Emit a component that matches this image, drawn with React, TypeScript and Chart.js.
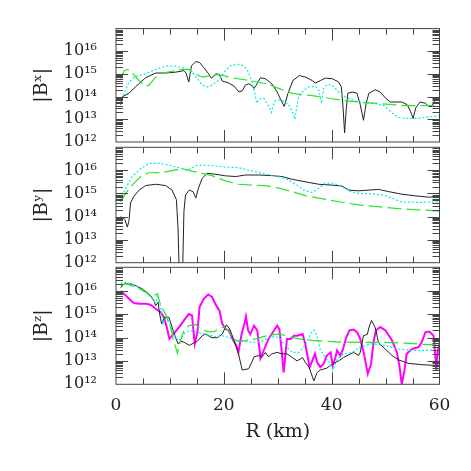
import React, { useEffect, useRef } from "react";
import { Chart, registerables } from "chart.js";

Chart.register(...registerables);

// ---- data: [R (km), |B| (G)] ----
const bxSolid: [number, number][] = [
  [0.86, 4.4e13], [1.2, 1.0e14], [2.4, 1.4e14], [3.6, 2.7e14], [5.5, 6.8e14], [7.35, 1.1e15], [9.2, 1.1e15],
  [11.05, 1.2e15], [12.6, 1.4e15], [13.0, 1.1e15], [13.5, 4.4e14], [14.0, 2.3e15], [14.8, 3.5e15], [15.5, 3.2e15],
  [16.3, 1.9e15], [17.2, 1.0e15], [17.7, 6.5e14], [18.5, 1.0e15], [19.0, 1.0e15], [19.4, 7.2e14], [19.7, 4.9e14],
  [20.9, 4.0e14], [21.9, 2.9e14], [22.8, 1.6e14], [23.4, 1.8e14], [24.0, 3.2e14], [24.6, 3.7e14], [25.1, 3.2e14],
  [25.6, 2.3e14], [26.0, 3.2e14], [26.8, 6.8e14], [27.7, 6.2e14], [28.9, 3.7e14], [29.9, 1.6e14], [30.5, 7.8e13],
  [31.2, 3.7e13], [31.9, 1.4e14], [32.8, 5.1e14], [34.0, 8.5e14], [35.2, 7.2e14], [36.4, 5.1e14], [37.0, 4.0e14],
  [37.9, 5.1e14], [38.8, 6.5e14], [40.1, 6.2e14], [41.3, 4.4e14], [41.8, 2.7e14], [42.1, 3.7e13], [42.4, 2.5e12],
  [42.7, 2.7e13], [43.0, 1.4e14], [43.8, 1.6e14], [44.7, 1.4e14], [45.3, 4.4e13], [45.9, 9.0e12], [46.4, 5.1e13],
  [46.9, 1.4e14], [48.1, 2.0e14], [49.0, 1.6e14], [50.0, 8.5e13], [50.9, 5.8e13], [53.0, 5.8e13], [54.0, 4.4e13],
  [54.6, 2.3e13], [55.1, 1.1e13], [55.6, 3.2e13], [56.4, 5.8e13], [57.4, 5.1e13], [58.0, 3.7e13], [58.6, 3.7e13],
  [59.1, 6.8e13], [59.5, 9.3e13], [60.0, 8.0e13],
];
const bxDot: [number, number][] = [
  [0.86, 5.1e13], [1.5, 1.4e14], [2.4, 4.4e14], [3.6, 7.8e14], [5.5, 1.0e15], [7.35, 1.6e15], [9.2, 2.2e15],
  [11.05, 2.2e15], [12.6, 1.8e15], [14.1, 1.2e15], [15.1, 6.2e14], [16.0, 3.2e14], [16.9, 2.7e14], [17.8, 3.2e14],
  [19.1, 5.5e14], [20.3, 1.4e15], [21.2, 2.3e15], [22.5, 2.7e15], [23.7, 2.3e15], [24.6, 1.2e15], [25.3, 3.7e14],
  [25.8, 1.2e14], [26.1, 5.1e13], [26.5, 7.8e13], [27.4, 8.5e13], [28.0, 5.1e13], [28.5, 3.2e13], [28.8, 2.0e13],
  [29.2, 4.4e13], [29.6, 6.8e13], [30.2, 7.2e13], [31.1, 6.2e13], [32.0, 4.4e13], [32.7, 2.3e13], [33.2, 1.0e13],
  [33.5, 3.2e13], [33.9, 1.0e14], [34.8, 1.9e14], [35.8, 2.7e14], [37.0, 2.9e14], [37.6, 1.9e14], [38.1, 5.1e13],
  [38.5, 2.3e14], [39.2, 3.5e14], [40.1, 3.2e14], [41.0, 1.9e14], [41.6, 1.4e14], [42.5, 1.0e14], [43.8, 7.2e13],
  [45.6, 5.5e13], [48.1, 4.9e13], [49.7, 4.0e13], [51.2, 1.9e13], [52.4, 1.2e13], [53.7, 1.1e13], [56.1, 1.1e13],
  [58.0, 1.3e13], [60.0, 1.4e13],
];
const bxDash: [number, number][] = [
  [0.86, 6.2e14], [1.5, 1.4e15], [2.1, 1.6e15], [3.0, 1.1e15], [4.3, 5.1e14], [5.5, 2.9e14], [6.1, 3.2e14],
  [7.35, 7.2e14], [8.6, 1.1e15], [10.4, 1.3e15], [12.3, 1.6e15], [13.5, 1.6e15], [14.8, 1.0e15], [16.0, 7.2e14],
  [17.8, 8.5e14], [19.1, 9.3e14], [21.5, 6.8e14], [25.3, 4.9e14], [28.3, 3.5e14], [30.2, 2.3e14], [32.7, 1.4e14],
  [36.4, 1.1e14], [39.5, 8.5e13], [42.6, 6.5e13], [46.3, 5.5e13], [50.0, 4.7e13], [53.7, 4.0e13], [57.4, 4.0e13],
  [60.0, 4.1e13],
];

const bySolid: [number, number][] = [
  [0.86, 1.0e14], [1.66, 7.4e13], [2.1, 3.5e13], [2.4, 6.3e13], [2.7, 3.9e14], [3.3, 7.4e14], [4.3, 1.4e15],
  [5.5, 2.2e15], [7.35, 2.5e15], [9.2, 2.2e15], [10.4, 1.4e15], [11.2, 5.4e14], [11.5, 3.2e13], [11.8, 1e11],
  [12.3, 1e11], [12.6, 1.7e14], [12.9, 8.7e14], [13.6, 1.4e15], [14.3, 1.2e15], [14.8, 6.3e14], [15.3, 1.7e15],
  [16.0, 4.6e15], [16.9, 7.4e15], [18.5, 6.8e15], [20.3, 5.8e15], [22.2, 5.4e15], [24.0, 6.3e15], [26.5, 6.3e15],
  [29.0, 5.9e15], [30.8, 5.4e15], [32.7, 4.1e15], [35.1, 3.2e15], [37.6, 2.5e15], [40.1, 2.3e15], [41.9, 2.1e15],
  [43.2, 1.4e15], [45.0, 1.3e15], [46.9, 1.4e15], [48.7, 1.5e15], [50.6, 1.2e15], [53.0, 9.3e14], [55.5, 7.9e14],
  [58.0, 6.9e14], [60.0, 7.4e14],
];
const byDot: [number, number][] = [
  [0.86, 5.4e14], [1.8, 1.7e15], [3.0, 5.4e15], [4.6, 1.2e16], [6.1, 2.0e16], [8.0, 2.0e16], [9.8, 1.7e16],
  [11.7, 1.3e16], [13.2, 1.0e16], [14.8, 1.6e16], [16.0, 1.7e16], [17.8, 1.6e16], [20.3, 1.4e16], [22.8, 1.3e16],
  [25.3, 9.3e15], [27.7, 6.8e15], [30.2, 5.4e15], [32.0, 3.9e15], [33.9, 2.0e15], [35.1, 1.3e15], [36.4, 1.1e15],
  [37.6, 1.7e15], [38.8, 2.8e15], [40.4, 2.8e15], [41.9, 2.0e15], [43.5, 1.2e15], [45.0, 1.0e15], [47.5, 9.8e14],
  [50.0, 8.1e14], [51.8, 5.4e14], [53.0, 4.3e14], [56.1, 4.1e14], [60.0, 4.3e14],
];
const byDash: [number, number][] = [
  [0.86, 4.3e14], [1.8, 1.0e15], [3.0, 2.3e15], [4.6, 5.4e15], [6.1, 7.9e15], [8.6, 8.1e15], [10.4, 9.8e15],
  [12.3, 1.2e16], [14.1, 9.3e15], [16.0, 7.4e15], [17.8, 5.9e15], [20.3, 3.5e15], [22.8, 2.5e15], [25.3, 2.3e15],
  [27.7, 2.2e15], [30.2, 1.7e15], [32.7, 1.2e15], [35.1, 8.1e14], [37.6, 6.3e14], [40.1, 4.9e14], [42.6, 3.9e14],
  [45.0, 3.2e14], [47.5, 2.8e14], [50.0, 2.5e14], [52.4, 2.2e14], [54.9, 2.0e14], [57.4, 1.9e14], [60.0, 1.7e14],
];

const bzSolid: [number, number][] = [
  [0.86, 1.35e16], [1.5, 2.0e16], [3.0, 1.9e16], [4.9, 1.2e16], [6.4, 6.3e15], [7.0, 3.9e15], [7.35, 2.3e15],
  [7.8, 3.2e15], [8.1, 1.0e15], [8.45, 3.9e14], [8.9, 6.3e14], [9.2, 7.4e14], [9.8, 7.4e14], [10.4, 2.8e14],
  [11.05, 1.0e14], [11.5, 5.4e13], [12.0, 6.9e13], [12.6, 6.3e13], [13.6, 4.6e13], [14.4, 5.8e13], [15.1, 6.9e13],
  [16.0, 1.2e14], [16.6, 1.4e14], [17.8, 9.8e13], [18.8, 9.8e13], [19.7, 1.4e14], [20.5, 3.5e14], [21.1, 2.3e14],
  [21.9, 7.4e13], [22.7, 2.1e13], [23.4, 4.1e12], [24.6, 4.6e12], [25.3, 1.0e13], [25.6, 1.5e13], [26.5, 1.7e13],
  [27.0, 1.4e13], [27.7, 2.3e13], [28.3, 1.5e13], [28.9, 2.0e13], [29.9, 2.3e13], [30.8, 2.0e13], [31.7, 2.0e13],
  [32.7, 1.4e13], [33.6, 1.0e13], [34.6, 1.4e13], [35.1, 8.7e12], [35.8, 5.4e12], [36.7, 1.4e12], [37.3, 3.2e12],
  [37.9, 4.1e12], [39.1, 4.9e12], [40.1, 7.4e12], [41.3, 1.0e13], [42.2, 1.4e13], [43.5, 2.0e13], [44.1, 2.3e13],
  [45.0, 1.7e13], [45.3, 2.3e13], [45.9, 1.2e14], [46.6, 1.35e14], [47.0, 3.1e14], [47.4, 5.4e14], [48.1, 2.6e14],
  [48.7, 5.9e13], [49.7, 3.6e13], [51.2, 1.7e13], [52.4, 1.1e13], [54.3, 7.8e12], [56.7, 6.9e12], [58.6, 6.5e12],
  [60.0, 6.5e12],
];
const bzDot: [number, number][] = [
  [0.86, 2.1e16], [1.8, 2.3e16], [3.6, 1.7e16], [5.5, 8.7e15], [6.7, 4.6e15], [7.35, 3.0e15], [7.8, 5.4e15],
  [8.3, 2.0e15], [8.7, 3.9e14], [9.2, 6.3e14], [9.8, 4.6e14], [10.4, 2.0e14], [11.05, 1.0e14], [11.7, 7.4e13],
  [12.6, 1.45e14], [13.8, 2.0e14], [15.1, 1.7e14], [16.6, 1.35e14], [18.5, 1.1e14], [19.7, 1.2e14], [20.9, 1.0e14],
  [22.2, 7.9e13], [23.4, 6.9e13], [25.3, 6.3e13], [27.1, 7.0e13], [28.9, 1.1e14], [30.2, 1.0e14], [31.4, 4.6e13],
  [32.7, 2.3e13], [33.9, 2.3e13], [35.1, 4.6e13], [36.1, 1.45e14], [36.7, 2.1e14], [37.3, 1.2e14], [37.9, 2.8e13],
  [38.8, 1.45e13], [39.8, 7.4e12], [40.2, 3.9e12], [41.0, 1.2e13], [42.2, 2.0e13], [43.8, 2.3e13], [45.3, 3.9e13],
  [47.5, 5.4e13], [49.9, 4.6e13], [52.4, 3.2e13], [54.9, 2.8e13], [57.4, 2.8e13], [60.0, 2.8e13],
];
const bzDash: [number, number][] = [
  [0.86, 1.7e16], [1.8, 2.0e16], [3.6, 1.45e16], [5.5, 8.7e15], [6.7, 5.4e15], [7.65, 7.4e15], [8.3, 2.3e15],
  [9.2, 1.0e15], [10.1, 2.8e14], [10.7, 7.4e13], [11.4, 2.1e13], [12.0, 7.4e13], [12.6, 2.0e14], [13.5, 3.2e14],
  [14.8, 3.6e14], [15.7, 2.3e14], [16.9, 1.8e14], [18.2, 1.8e14], [19.1, 2.3e14], [20.0, 2.8e14], [20.8, 2.0e14],
  [21.6, 1.0e14], [22.5, 6.9e13], [24.0, 7.4e13], [25.9, 8.7e13], [27.7, 1.15e14], [29.6, 1.35e14], [30.5, 1.4e14],
  [32.7, 9.8e13], [35.1, 7.9e13], [38.8, 6.9e13], [42.5, 6.3e13], [46.2, 6.2e13], [49.9, 6.2e13], [53.7, 5.8e13],
  [57.4, 5.0e13], [60.0, 4.9e13],
];
const bzMag: [number, number][] = [
  [0.86, 9.8e15], [1.8, 6.3e15], [2.7, 3.9e15], [3.3, 3.0e15], [4.3, 2.8e15], [5.5, 2.8e15], [6.4, 2.5e15],
  [7.35, 1.7e15], [8.3, 1.2e15], [8.9, 7.4e14], [9.5, 2.3e14], [9.9, 8.7e13], [10.6, 1.35e14], [11.7, 2.8e14],
  [12.6, 5.4e14], [13.5, 1.0e15], [14.1, 8.7e14], [14.6, 5.4e13], [15.1, 1.7e14], [15.5, 2.0e15], [16.3, 4.6e15],
  [17.1, 6.9e15], [17.8, 5.4e15], [18.6, 2.3e15], [19.2, 1.4e15], [19.7, 3.9e14], [20.3, 2.3e14], [20.9, 2.0e14],
  [21.6, 8.7e13], [22.3, 4.6e13], [22.7, 2.3e13], [23.3, 1.4e14], [23.9, 4.6e14], [24.1, 7.9e14], [24.5, 2.0e14],
  [24.9, 1.4e14], [25.6, 3.2e14], [26.2, 2.0e14], [26.5, 5.4e13], [26.8, 1.3e13], [27.4, 2.8e13], [28.3, 8.7e13],
  [29.3, 2.0e14], [29.9, 3.2e14], [30.3, 2.3e14], [30.6, 5.4e13], [31.1, 3.2e12], [31.7, 8.7e13], [32.4, 8.7e13],
  [33.0, 1.2e14], [33.6, 1.2e14], [34.6, 1.4e14], [35.1, 5.4e13], [35.9, 5.4e12], [36.4, 1.0e13], [36.9, 2.0e13],
  [37.3, 8.7e12], [37.9, 5.4e12], [38.5, 7.4e12], [39.1, 1.7e13], [39.8, 2.3e13], [40.2, 6.3e12], [40.7, 1.4e13],
  [41.0, 2.8e13], [41.6, 1.7e13], [42.1, 3.2e13], [42.7, 1.0e14], [43.3, 2.0e14], [44.1, 2.2e14], [44.7, 1.7e14],
  [45.3, 8.7e13], [46.0, 2.0e13], [46.7, 2.8e12], [47.3, 7.4e12], [47.8, 7.4e13], [48.2, 2.0e14], [49.0, 2.8e14],
  [50.0, 2.0e14], [51.2, 7.4e13], [52.1, 2.3e13], [52.6, 5.4e12], [53.0, 1.0e12], [53.5, 3.9e12], [53.9, 2.0e13],
  [54.9, 3.2e13], [56.1, 3.9e13], [56.7, 6.3e13], [57.4, 1.7e14], [58.1, 1.8e14], [58.9, 1.2e14], [59.2, 2.0e13],
  [59.4, 3.9e12], [59.7, 2.8e13], [60.0, 5.4e13],
];

const xTickValues = [0, 20, 40, 60];
const yTickValues = [1e12, 1e13, 1e14, 1e15, 1e16, 1e17];
const yTickLabels = ["10¹²", "10¹³", "10¹⁴", "10¹⁵", "10¹⁶", ""];
const panelTitles = ["|Bˣ|", "|Bʸ|", "|Bᶻ|"];
const xTitle = "R (km)";

const FONT = "'DejaVu Serif', serif";
const TEXT = "#222";

const frameTicks = {
  id: "frameTicks",
  afterDraw(chart: any) {
    const { ctx, chartArea: a, scales } = chart;
    const x = scales.x;
    const y = scales.y;
    ctx.save();
    ctx.strokeStyle = "#444";
    ctx.lineWidth = 1;
    ctx.strokeRect(a.left, a.top, a.right - a.left, a.bottom - a.top);
    ctx.beginPath();
    for (let v = 5; v < 60; v += 5) {
      const px = Math.round(x.getPixelForValue(v)) + 0.5;
      const len = v % 20 === 0 ? 12 : 6;
      ctx.moveTo(px, a.top);
      ctx.lineTo(px, a.top + len);
      ctx.moveTo(px, a.bottom);
      ctx.lineTo(px, a.bottom - len);
    }
    for (let d = 12; d <= 16; d++) {
      for (let m = 1; m <= 9; m++) {
        if (d === 12 && m === 1) continue;
        const py = Math.round(y.getPixelForValue(m * Math.pow(10, d))) + 0.5;
        const len = m === 1 ? 12 : 7;
        ctx.moveTo(a.left, py);
        ctx.lineTo(a.left + len, py);
        ctx.moveTo(a.right, py);
        ctx.lineTo(a.right - len, py);
      }
    }
    ctx.stroke();
    ctx.restore();
  },
};

function series(points: [number, number][], color: string, width: number, dash: number[]) {
  return {
    data: points.map(([r, b]) => ({ x: r, y: b })),
    borderColor: color,
    borderWidth: width,
    borderDash: dash,
    pointRadius: 0,
    tension: 0,
    fill: false,
  };
}

type Panel = { top: number; bottom: number; showX: boolean; title: string; datasets: any[] };

const panels: Panel[] = [
  {
    top: 25.3, bottom: 142, showX: false, title: panelTitles[0],
    datasets: [
      series(bxDash, "rgb(40,230,40)", 1.2, [14, 5]),
      series(bxDot, "rgb(0,235,235)", 1.2, [2, 2]),
      series(bxSolid, "#222", 1, []),
    ],
  },
  {
    top: 147.3, bottom: 262.7, showX: false, title: panelTitles[1],
    datasets: [
      series(byDash, "rgb(40,230,40)", 1.2, [14, 5]),
      series(byDot, "rgb(0,235,235)", 1.2, [2, 2]),
      series(bySolid, "#222", 1, []),
    ],
  },
  {
    top: 267.3, bottom: 384.3, showX: true, title: panelTitles[2],
    datasets: [
      series(bzDash, "rgb(40,230,40)", 1.2, [14, 5]),
      series(bzDot, "rgb(0,235,235)", 1.2, [2, 2]),
      series(bzSolid, "#222", 1, []),
      series(bzMag, "#ff00ff", 2, []),
    ],
  },
];

function PanelChart({ panel }: { panel: Panel }) {
  const ref = useRef<HTMLCanvasElement | null>(null);
  useEffect(() => {
    if (!ref.current) return;
    const H = 471;
    const xHeight = H - panel.bottom;
    const chart = new Chart(ref.current, {
      type: "line",
      data: { datasets: panel.datasets },
      plugins: [frameTicks],
      options: {
        animation: false,
        responsive: false,
        maintainAspectRatio: false,
        events: [],
        layout: {
          padding: { left: 0, right: 31.5, top: panel.top, bottom: panel.showX ? 0 : H - panel.bottom },
        },
        plugins: { legend: { display: false }, tooltip: { enabled: false } },
        scales: {
          x: {
            type: "linear",
            min: 0,
            max: 60,
            display: panel.showX,
            afterBuildTicks: (s: any) => {
              s.ticks = xTickValues.map((v) => ({ value: v }));
            },
            afterFit: (s: any) => {
              s.height = panel.showX ? xHeight : 0;
            },
            grid: { display: false, drawTicks: false },
            border: { display: false },
            ticks: {
              font: { family: FONT, size: 17 },
              color: TEXT,
              padding: 11,
              maxRotation: 0,
              autoSkip: false,
              callback: (v: any) => String(v),
            },
            title: {
              display: true,
              text: xTitle,
              font: { family: FONT, size: 19 },
              color: TEXT,
              padding: { top: 0, bottom: 28 },
            },
          },
          y: {
            type: "logarithmic",
            min: 1e12,
            max: 1e17,
            afterBuildTicks: (s: any) => {
              s.ticks = yTickValues.map((v) => ({ value: v }));
            },
            afterFit: (s: any) => {
              s.width = 116;
            },
            grid: { display: false, drawTicks: false },
            border: { display: false },
            ticks: {
              font: { family: FONT, size: 16 },
              color: TEXT,
              padding: 19,
              autoSkip: false,
              callback: (_v: any, i: number) => yTickLabels[i],
            },
            title: {
              display: true,
              text: panel.title,
              font: { family: FONT, size: 19 },
              color: TEXT,
              padding: { top: 31, bottom: 0 },
            },
          },
        },
      } as any,
    });
    return () => chart.destroy();
  }, [panel]);
  return (
    <canvas
      ref={ref}
      width={471}
      height={471}
      style={{ position: "absolute", left: 0, top: 0, width: 471, height: 471 }}
    />
  );
}

export default function App() {
  return (
    <div style={{ position: "absolute", left: 0, top: 0, width: 471, height: 471, background: "#fff" }}>
      {panels.map((p, i) => (
        <PanelChart key={i} panel={p} />
      ))}
    </div>
  );
}
